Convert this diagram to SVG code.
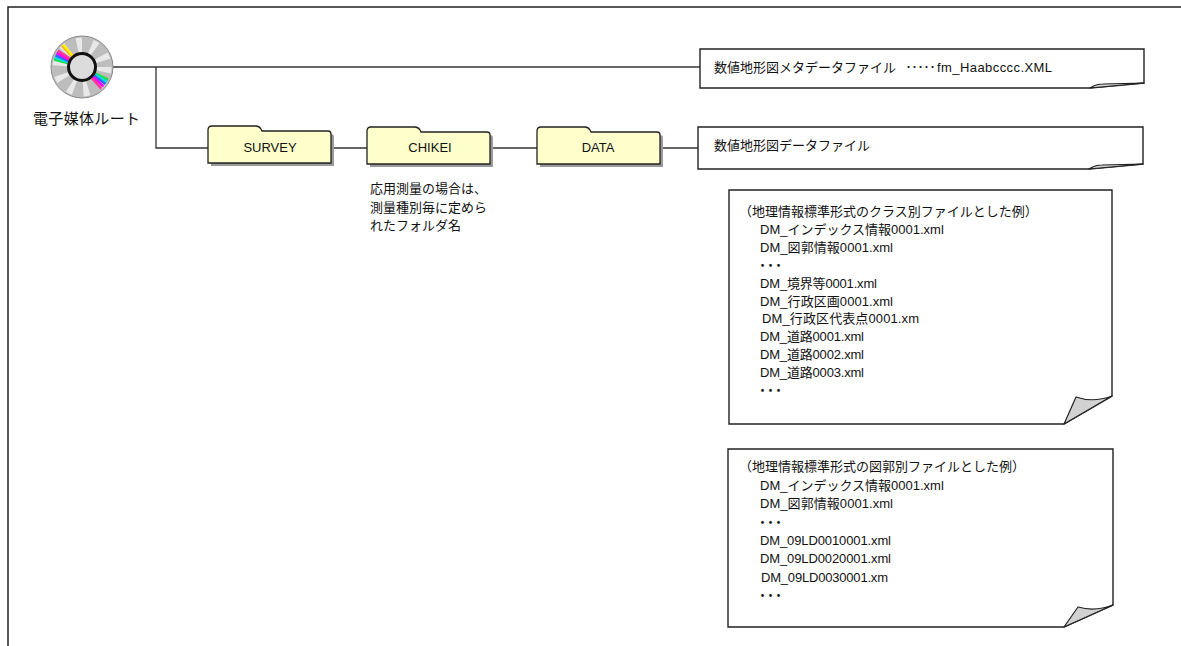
<svg xmlns="http://www.w3.org/2000/svg" xmlns:xlink="http://www.w3.org/1999/xlink" width="1181" height="646" viewBox="0 0 1181 646">
<style>
  text { font-family: "Liberation Sans", "Noto Sans CJK JP", sans-serif; font-size: 13px; fill: #111; }
  .big { font-size: 15px; }
  .lbl { text-anchor: middle; }
  .dots { font-family: "Noto Sans CJK JP", sans-serif; font-size: 12px; }
  .conn { stroke: #333; stroke-width: 1.3; fill: none; }
  .note { fill: #fff; stroke: #222; stroke-width: 1.4; }
  .curl { fill: #d2d2d2; stroke: #222; stroke-width: 1.2; stroke-linejoin: round; }
  .folder { fill: #ffffcc; stroke: #222; stroke-width: 1.3; }
  .fshadow { fill: #9a9a9a; }
</style>
<defs>
  <path id="fpath" d="M0,37 L0,4 Q0,0 4,0 L48,0 Q51,0 53,3 L54,5 L120,5 Q123,5 123,8 L123,37 Z"/>
</defs>
<rect width="1181" height="646" fill="#fff"/>
<path d="M8,646 V7 H1181" fill="none" stroke="#222" stroke-width="1.5"/>

<g id="connectors">
  <path class="conn" d="M113,67 H700"/>
  <path class="conn" d="M156,67 V148 H208"/>
  <path class="conn" d="M331,148 H368"/>
  <path class="conn" d="M490,148 H538"/>
  <path class="conn" d="M659,148 H698"/>
</g>

<g id="root">
  <circle cx="82" cy="67" r="31" fill="#bdbdbd" stroke="#8a8a8a" stroke-width="1"/>
  <circle cx="82" cy="67" r="22" fill="none" stroke="#fff" stroke-opacity="0.65" stroke-width="15" stroke-dasharray="5 9"/>
  <g stroke-width="2.6">
    <line x1="97" y1="67" x2="111" y2="67" stroke="#22dd44" transform="rotate(195 82 67)"/>
    <line x1="97" y1="67" x2="111" y2="67" stroke="#00e0e0" transform="rotate(199 82 67)"/>
    <line x1="97" y1="67" x2="111" y2="67" stroke="#3366ff" transform="rotate(204 82 67)"/>
    <line x1="97" y1="67" x2="111" y2="67" stroke="#ff00ff" transform="rotate(209 82 67)"/>
    <line x1="97" y1="67" x2="111" y2="67" stroke="#ff3399" transform="rotate(214 82 67)"/>
    <line x1="97" y1="67" x2="111" y2="67" stroke="#ffaa00" transform="rotate(227 82 67)"/>
    <line x1="97" y1="67" x2="111" y2="67" stroke="#ffee00" transform="rotate(230 82 67)"/>
    <line x1="97" y1="67" x2="111" y2="67" stroke="#22dd44" transform="rotate(26 82 67)"/>
    <line x1="97" y1="67" x2="111" y2="67" stroke="#00e0e0" transform="rotate(31 82 67)"/>
    <line x1="97" y1="67" x2="111" y2="67" stroke="#3366ff" transform="rotate(36 82 67)"/>
    <line x1="97" y1="67" x2="111" y2="67" stroke="#ff00ff" transform="rotate(42 82 67)"/>
    <line x1="97" y1="67" x2="111" y2="67" stroke="#ff3399" transform="rotate(48 82 67)"/>
  </g>
  <circle cx="82" cy="67" r="13.5" fill="#dcdcdc" stroke="#111" stroke-width="3"/>
  <text class="big" x="33" y="124" textLength="107">電子媒体ルート</text>
</g>

<g id="survey">
  <use xlink:href="#fpath" class="fshadow" transform="translate(211,129)"/>
  <use xlink:href="#fpath" class="folder" transform="translate(208,126)"/>
  <text class="lbl" x="270" y="152">SURVEY</text>
</g>

<g id="chikei">
  <use xlink:href="#fpath" class="fshadow" transform="translate(370,130)"/>
  <use xlink:href="#fpath" class="folder" transform="translate(367,127)"/>
  <text class="lbl" x="430" y="152">CHIKEI</text>
  <text x="370" y="193">応用測量の場合は、</text>
  <text x="370" y="212">測量種別毎に定めら</text>
  <text x="370" y="230">れたフォルダ名</text>
</g>

<g id="data">
  <use xlink:href="#fpath" class="fshadow" transform="translate(540,130)"/>
  <use xlink:href="#fpath" class="folder" transform="translate(537,127)"/>
  <text class="lbl" x="598" y="152">DATA</text>
</g>

<g id="meta-file">
  <path class="note" d="M700,49 H1144 V83 L1090,88 H700 Z"/>
  <path class="curl" d="M1090,88 Q1096,84 1103,84 L1144,83 Z"/>
  <text x="714" y="72">数値地形図メタデータファイル</text>
  <text class="dots" x="905.5" y="72">･････</text>
  <text x="937" y="72" textLength="115">fm_Haabcccc.XML</text>
</g>

<g id="data-file">
  <path class="note" d="M698,127 H1143 V164 L1089,169 H698 Z"/>
  <path class="curl" d="M1089,169 Q1095,165 1102,165 L1143,164 Z"/>
  <text x="714" y="150">数値地形図データファイル</text>
</g>

<g id="class-example">
  <path class="note" d="M729,190 H1112 V396 L1064,424 H729 Z"/>
  <path class="curl" d="M1064,424 L1076,397 Q1093,403 1112,396 Z"/>
  <text x="739" y="216">（地理情報標準形式のクラス別ファイルとした例）</text>
  <text x="760" y="234">DM_インデックス情報0001.xml</text>
  <text x="760" y="252" textLength="133">DM_図郭情報0001.xml</text>
  <text x="756 764 772" y="270">・・・</text>
  <text x="760" y="288" textLength="117">DM_境界等0001.xml</text>
  <text x="760" y="306" textLength="133">DM_行政区画0001.xml</text>
  <text x="762" y="323" textLength="157">DM_行政区代表点0001.xm</text>
  <text x="760" y="341" textLength="104">DM_道路0001.xml</text>
  <text x="760" y="359" textLength="104">DM_道路0002.xml</text>
  <text x="760" y="377" textLength="104">DM_道路0003.xml</text>
  <text x="756 764 772" y="395">・・・</text>
</g>

<g id="sheet-example">
  <path class="note" d="M728,449 H1113 V605 L1064,627 H728 Z"/>
  <path class="curl" d="M1064,627 L1078,607 Q1095,612 1113,605 Z"/>
  <text x="739" y="471">（地理情報標準形式の図郭別ファイルとした例）</text>
  <text x="760" y="490">DM_インデックス情報0001.xml</text>
  <text x="760" y="508" textLength="133">DM_図郭情報0001.xml</text>
  <text x="756 764 772" y="527">・・・</text>
  <text x="760" y="545" textLength="131">DM_09LD0010001.xml</text>
  <text x="760" y="563" textLength="131">DM_09LD0020001.xml</text>
  <text x="761" y="582" textLength="127">DM_09LD0030001.xm</text>
  <text x="756 764 772" y="600">・・・</text>
</g>
</svg>
